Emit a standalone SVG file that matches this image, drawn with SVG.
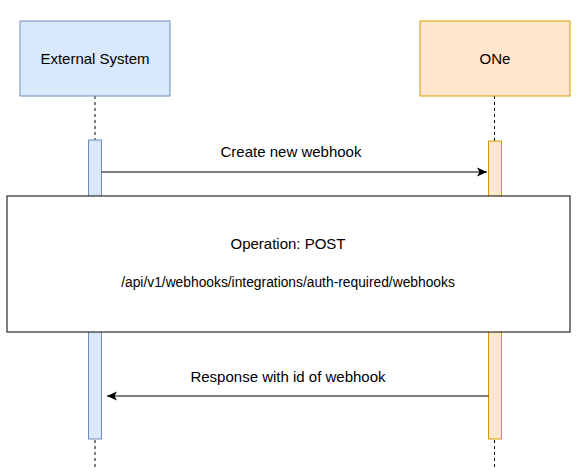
<svg xmlns="http://www.w3.org/2000/svg" width="583" height="475" viewBox="0 0 583 475">
<defs>
<style>
text{font-family:"Liberation Sans",Arial,sans-serif;fill:#000;text-anchor:middle;dominant-baseline:central}
.lbl{font-size:15px}
.actA{fill:#dae8fc;stroke:#6c8ebf;stroke-width:1}
.actB{fill:#ffe6cc;stroke:#d79b00;stroke-width:1}
.life{stroke:#000;stroke-dasharray:3 3;stroke-width:1;fill:none}
.msg{stroke:#000;stroke-width:1;fill:none}
</style>
<marker id="arr" markerWidth="12" markerHeight="12" refX="11" refY="6" orient="auto" markerUnits="userSpaceOnUse">
<path d="M1,1.5 L11,6 L1,10.5 L3.5,6 Z" fill="#000"/>
</marker>
</defs>
<rect width="583" height="475" fill="#fff"/>
<g id="connectors">
<line class="life" x1="95" y1="96" x2="95" y2="140"/>
<line class="life" x1="95" y1="440" x2="95" y2="470"/>
<line class="life" x1="494.5" y1="96" x2="494.5" y2="141"/>
<line class="life" x1="494.5" y1="440" x2="494.5" y2="470"/>
</g>
<g id="external-system">
<rect class="actA" x="20" y="21" width="150" height="75"/>
<text class="lbl" x="95" y="58">External System</text>
<rect class="actA" x="88.5" y="140" width="13" height="299"/>
</g>
<g id="one">
<rect class="actB" x="420" y="21" width="150" height="75"/>
<text class="lbl" x="495" y="58">ONe</text>
<rect class="actB" x="488.5" y="141" width="13" height="298"/>
</g>
<g id="messages">
<line class="msg" x1="101.5" y1="172" x2="487" y2="172" marker-end="url(#arr)"/>
<text class="lbl" x="291" y="151.5">Create new webhook</text>
<line class="msg" x1="488.5" y1="396" x2="107" y2="396" marker-end="url(#arr)"/>
<text class="lbl" x="288" y="376.5">Response with id of webhook</text>
</g>
<g id="operation">
<rect x="7" y="196" width="563" height="136" fill="#fff" stroke="#000" stroke-width="1"/>
<text class="lbl" x="288" y="243.5">Operation: POST</text>
<text x="288" y="282" font-size="13.8">/api/v1/webhooks/integrations/auth-required/webhooks</text>
</g>
</svg>
